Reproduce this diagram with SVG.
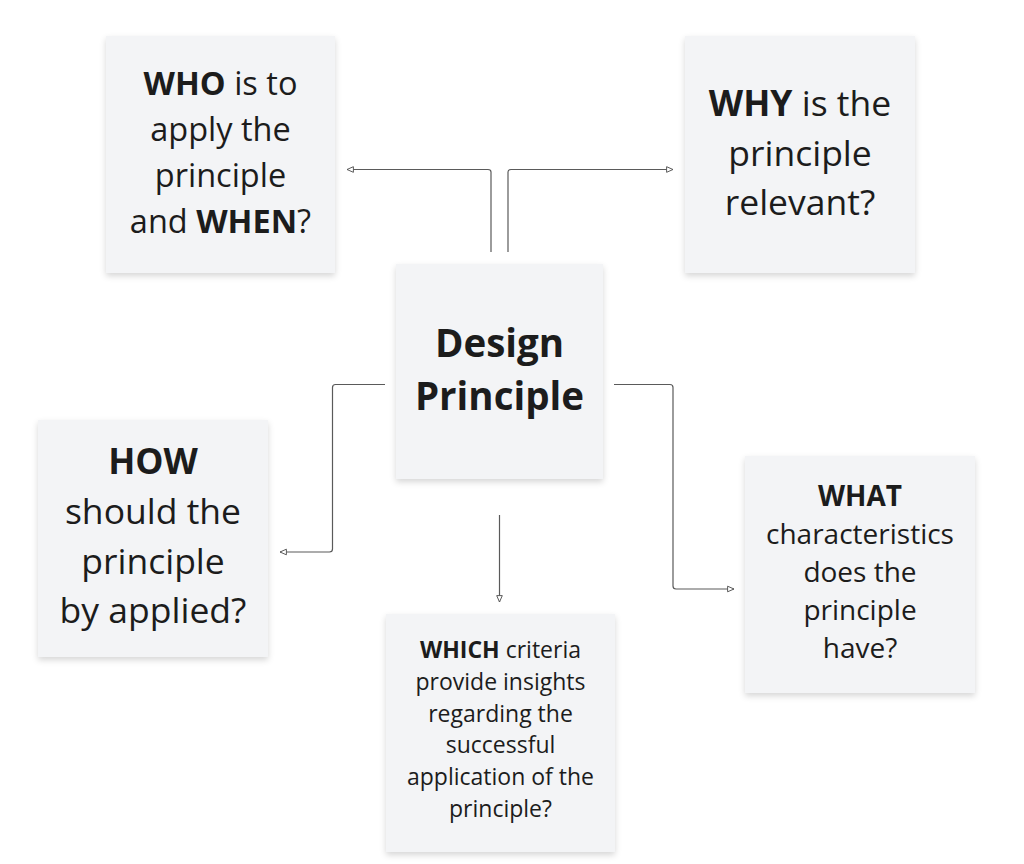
<svg xmlns="http://www.w3.org/2000/svg" width="1024" height="864" viewBox="0 0 1024 864">
  <defs>
    <filter id="shadow" x="-10%" y="-10%" width="120%" height="125%">
      <feDropShadow dx="0" dy="3" stdDeviation="3" flood-color="#000" flood-opacity="0.16"/>
    </filter>
    <marker id="arrow" viewBox="0 0 10 10" refX="9" refY="5" markerWidth="8" markerHeight="8" markerUnits="userSpaceOnUse" orient="auto">
      <path d="M1,1.5 L9,5 L1,8.5 Z" fill="#ffffff" stroke="#555555" stroke-width="1.2"/>
    </marker>
    <style>
      .card { fill: #f3f4f6; filter: url(#shadow); }
      .t { font-family: "Open Sans", "Noto Sans", "DejaVu Sans", sans-serif; fill: #1c1c1c; text-anchor: middle; }
      .b { font-weight: 700; }
      .conn { fill: none; stroke: #5a5a5a; stroke-width: 1.2; marker-end: url(#arrow); }
    </style>
  </defs>
  <rect x="0" y="0" width="1024" height="864" fill="#ffffff"/>

  <g id="connectors">
    <path class="conn" d="M491,252 V172 Q491,169.5 488,169.5 H347"/>
    <path class="conn" d="M508,252 V172 Q508,169.5 511,169.5 H673"/>
    <path class="conn" d="M385,384.5 H335.5 Q332.5,384.5 332.5,387.5 V549 Q332.5,552 329.5,552 H280"/>
    <path class="conn" d="M614,384.5 H670 Q673,384.5 673,387.5 V586 Q673,589 676,589 H734"/>
    <path class="conn" d="M499.5,515 V602"/>
  </g>

  <g id="node-who">
    <rect class="card" x="106" y="36" width="229" height="237"/>
    <text class="t" font-size="32.5" x="220.5" y="95"><tspan class="b">WHO</tspan> is to</text>
    <text class="t" font-size="32.5" x="220.5" y="141">apply the</text>
    <text class="t" font-size="32.5" x="220.5" y="187">principle</text>
    <text class="t" font-size="32.5" x="220.5" y="233">and <tspan class="b">WHEN</tspan>?</text>
  </g>

  <g id="node-why">
    <rect class="card" x="685" y="36" width="230" height="237"/>
    <text class="t" font-size="35.5" x="800" y="116"><tspan class="b">WHY</tspan> is the</text>
    <text class="t" font-size="35.5" x="800" y="166">principle</text>
    <text class="t" font-size="35.5" x="800" y="215">relevant?</text>
  </g>

  <g id="node-center">
    <rect class="card" x="396" y="264" width="207" height="215"/>
    <text class="t b" font-size="38.5" x="499.5" y="357">Design</text>
    <text class="t b" font-size="38.5" x="499.5" y="410">Principle</text>
  </g>

  <g id="node-how">
    <rect class="card" x="38" y="420" width="230" height="237"/>
    <text class="t b" font-size="35.5" x="153" y="474">HOW</text>
    <text class="t" font-size="35.5" x="153" y="524">should the</text>
    <text class="t" font-size="35.5" x="153" y="574">principle</text>
    <text class="t" font-size="35.5" x="153" y="623">by applied?</text>
  </g>

  <g id="node-what">
    <rect class="card" x="745" y="456" width="230" height="237"/>
    <text class="t b" font-size="28" x="860" y="506">WHAT</text>
    <text class="t" font-size="28" x="860" y="544">characteristics</text>
    <text class="t" font-size="28" x="860" y="582">does the</text>
    <text class="t" font-size="28" x="860" y="620">principle</text>
    <text class="t" font-size="28" x="860" y="658">have?</text>
  </g>

  <g id="node-which">
    <rect class="card" x="386" y="614" width="229" height="238"/>
    <text class="t" font-size="23" x="500.5" y="658"><tspan class="b">WHICH</tspan> criteria</text>
    <text class="t" font-size="23" x="500.5" y="690">provide insights</text>
    <text class="t" font-size="23" x="500.5" y="722">regarding the</text>
    <text class="t" font-size="23" x="500.5" y="753">successful</text>
    <text class="t" font-size="23" x="500.5" y="785">application of the</text>
    <text class="t" font-size="23" x="500.5" y="817">principle?</text>
  </g>
</svg>
